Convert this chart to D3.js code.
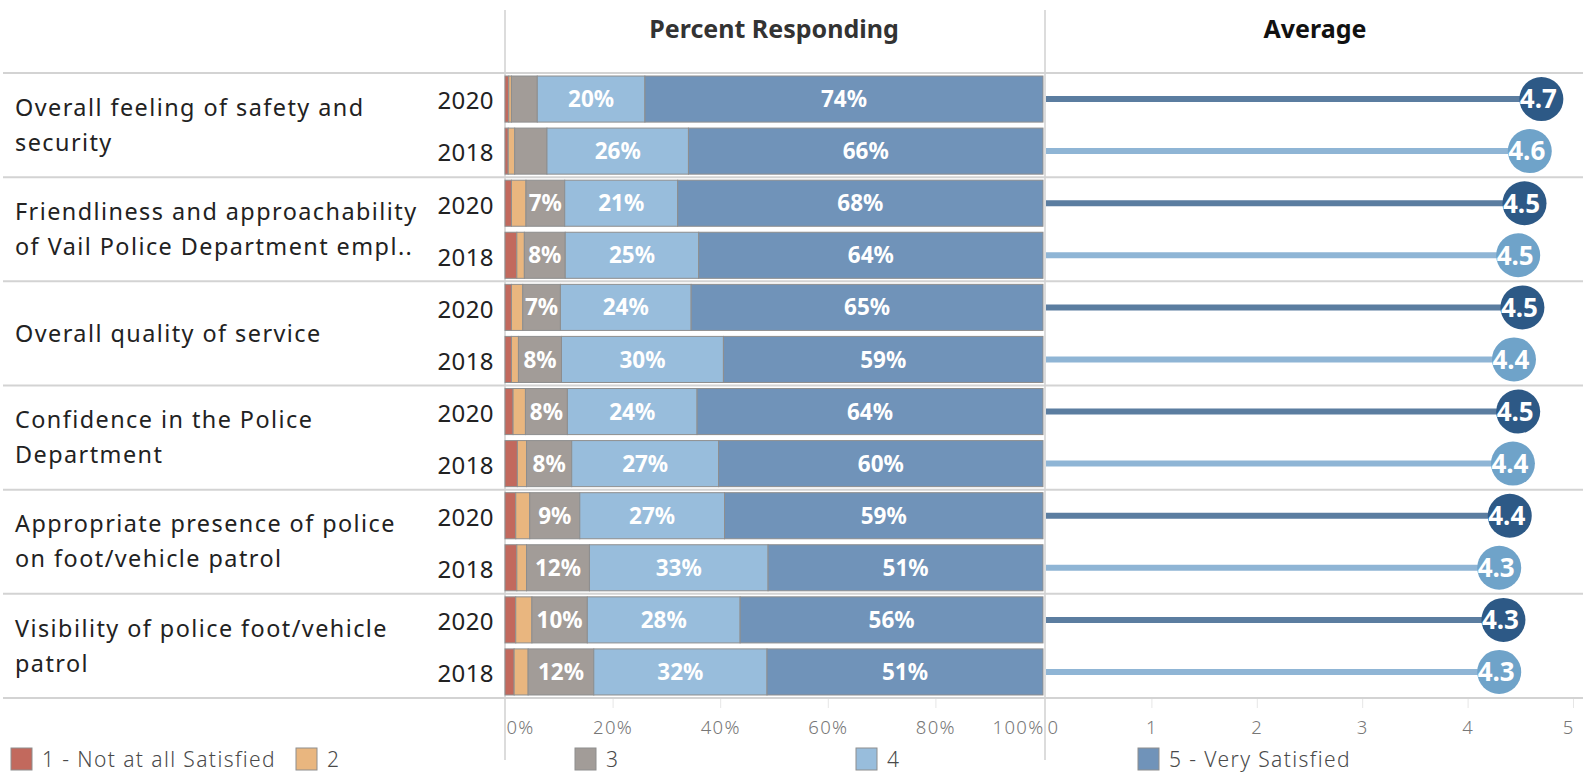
<!DOCTYPE html>
<html><head><meta charset="utf-8">
<script src="https://cdn.jsdelivr.net/npm/d3@7"></script>
<style>
html,body{margin:0;padding:0;background:#fff;}
svg{display:block;}
</style></head>
<body>
<svg id="chart" width="1583" height="773"></svg>
<script>
const categories = [
  "Overall feeling of safety and security",
  "Friendliness and approachability of Vail Police Department empl..",
  "Overall quality of service",
  "Confidence in the Police Department",
  "Appropriate presence of police on foot/vehicle patrol",
  "Visibility of police foot/vehicle patrol"
];
const categoryLines = [
  ["Overall feeling of safety and", "security"],
  ["Friendliness and approachability", "of Vail Police Department empl.."],
  ["Overall quality of service"],
  ["Confidence in the Police", "Department"],
  ["Appropriate presence of police", "on foot/vehicle patrol"],
  ["Visibility of police foot/vehicle", "patrol"]
];
const years = ["2020", "2018"];
const levels = ["1 - Not at all Satisfied", "2", "3", "4", "5 - Very Satisfied"];
const levelColors = ["#c2695d", "#e9b67f", "#a29c98", "#98bddc", "#7093b9"];

// percent responding, per category, [2020, 2018], levels 1..5
const pct1 = [[0.7, 0.6], [1.2, 2.2], [1.2, 1.2], [1.5, 2.3], [2.0, 2.2], [2.0, 1.7]];
const pct2 = [[0.5, 1.2], [2.7, 1.4], [2.1, 1.3], [2.3, 1.7], [2.6, 1.8], [3.0, 2.6]];
const pct3 = [[4.8, 6.0], [7.2, 7.6], [7.0, 8.0], [7.8, 8.4], [9.3, 11.7], [10.3, 12.2]];
const pct4 = [[20.0, 26.3], [21.0, 24.8], [24.3, 30.1], [24.1, 27.3], [26.9, 33.2], [28.4, 32.2]];
const pct5 = [[74.0, 65.9], [67.9, 64.0], [65.4, 59.4], [64.3, 60.3], [59.2, 51.1], [56.3, 51.3]];
const averages = [[4.70, 4.59], [4.54, 4.48], [4.52, 4.44], [4.48, 4.43], [4.40, 4.30], [4.34, 4.30]];

const pctTicks = [0, 20, 40, 60, 80, 100];
const avgTicks = [0, 1, 2, 3, 4, 5];

const lineColors = {"2020": "#5b7da0", "2018": "#8fb5d5"};
const circleColors = {"2020": "#2d5986", "2018": "#6fa3c9"};

const svg = d3.select("#chart");
const W = 1583;
const topY = 73, bottomY = 698;
const mainFont = "'Noto Sans', 'Open Sans', sans-serif";

const xPct = d3.scaleLinear().domain([0, 100]).range([505, 1043]);
const xAvg = d3.scaleLinear().domain([0, 5]).range([1046, 1573]);
const yGroup = d3.scaleBand().domain(categories).range([topY, bottomY]);
const yYear = d3.scaleBand().domain(years).range([0, yGroup.bandwidth()])
  .paddingInner(0.115).paddingOuter(0.058);

const pctArrays = [pct1, pct2, pct3, pct4, pct5];

const rows = [];
categories.forEach((c, ci) => {
  years.forEach((y, yi) => {
    const vals = pctArrays.map(a => a[ci][yi]);
    const stacked = [];
    let acc = 0;
    vals.forEach((v, li) => { stacked.push({level: li, x0: acc, x1: acc + v, v}); acc += v; });
    rows.push({cat: c, ci, year: y, segs: stacked, avg: averages[ci][yi]});
  });
});

// vertical dividers
svg.append("line").attr("x1", 505).attr("x2", 505).attr("y1", 10).attr("y2", 760)
  .attr("stroke", "#d0d0d0").attr("stroke-width", 1.5);
svg.append("line").attr("x1", 1045).attr("x2", 1045).attr("y1", 10).attr("y2", 760)
  .attr("stroke", "#d0d0d0").attr("stroke-width", 1.5);

// headers
svg.append("text").attr("x", 774).attr("y", 38).attr("text-anchor", "middle")
  .attr("font-family", mainFont).attr("font-weight", 700).attr("font-size", 25).attr("fill", "#333")
  .text("Percent Responding");
svg.append("text").attr("x", 1315).attr("y", 38).attr("text-anchor", "middle")
  .attr("font-family", mainFont).attr("font-weight", 700).attr("font-size", 25).attr("fill", "#111")
  .text("Average");

// group separator lines
const seps = [topY].concat(categories.map(c => yGroup(c) + yGroup.bandwidth()));
svg.selectAll("line.sep").data(seps).join("line").attr("class", "sep")
  .attr("x1", 3).attr("x2", W).attr("y1", d => d).attr("y2", d => d)
  .attr("stroke", "#d3d3d3").attr("stroke-width", 2);

// category labels
const catG = svg.append("g");
categories.forEach((c, ci) => {
  const lines = categoryLines[ci];
  const cy = yGroup(c) + yGroup.bandwidth() / 2;
  const lh = 35;
  const startY = cy - (lines.length - 1) * lh / 2;
  const t = catG.append("text").attr("font-family", mainFont).attr("font-size", 23.4)
    .attr("letter-spacing", 1.45).attr("fill", "#222");
  lines.forEach((l, i) => {
    t.append("tspan").attr("x", 15).attr("y", startY + i * lh).attr("dy", "0.35em").text(l);
  });
});

const rowG = svg.selectAll("g.row").data(rows).join("g").attr("class", "row")
  .attr("transform", d => `translate(0,${yGroup(d.cat) + yYear(d.year)})`);

const bh = yYear.bandwidth();

rowG.append("text").attr("x", 494).attr("y", bh / 2 + 2).attr("dy", "0.35em").attr("text-anchor", "end")
  .attr("font-family", mainFont).attr("font-size", 24).attr("letter-spacing", 0.4)
  .attr("fill", "#222").text(d => d.year);

rowG.selectAll("rect.seg").data(d => d.segs).join("rect").attr("class", "seg")
  .attr("x", s => xPct(s.x0)).attr("width", s => xPct(s.x1) - xPct(s.x0))
  .attr("y", 0).attr("height", bh)
  .attr("fill", s => levelColors[s.level]).attr("stroke", "#8e8e8e").attr("stroke-width", 1);

rowG.selectAll("text.pl").data(d => d.segs.filter(s => s.v >= 6.5)).join("text").attr("class", "pl")
  .attr("x", s => (xPct(s.x0) + xPct(s.x1)) / 2).attr("y", bh / 2).attr("dy", "0.36em")
  .attr("text-anchor", "middle").attr("font-family", mainFont).attr("font-weight", 700)
  .attr("font-size", 22.5).attr("fill", "#fff").text(s => Math.round(s.v) + "%");

rowG.append("line").attr("x1", xAvg(0)).attr("x2", d => xAvg(d.avg))
  .attr("y1", bh / 2).attr("y2", bh / 2).attr("stroke", d => lineColors[d.year]).attr("stroke-width", 6);
rowG.append("circle").attr("cx", d => xAvg(d.avg)).attr("cy", bh / 2).attr("r", 22)
  .attr("fill", d => circleColors[d.year]);
rowG.append("text").attr("x", d => xAvg(d.avg) - 3).attr("y", bh / 2).attr("dy", "0.36em")
  .attr("text-anchor", "middle").attr("font-family", mainFont).attr("font-weight", 700)
  .attr("font-size", 26).attr("fill", "#fff").text(d => d.avg.toFixed(1));

const axisY = bottomY + 1;
const pctAxis = svg.append("g").attr("transform", `translate(0,${axisY})`)
  .call(d3.axisBottom(xPct).tickValues(pctTicks).tickSize(9).tickFormat(d => d + "%"));
const avgAxis = svg.append("g").attr("transform", `translate(0,${axisY})`)
  .call(d3.axisBottom(xAvg).tickValues(avgTicks).tickSize(9).tickFormat(d3.format("d")));
[pctAxis, avgAxis].forEach((ax) => {
  ax.select(".domain").remove();
  ax.selectAll(".tick line").attr("stroke", "#e6e6e6").attr("stroke-width", 1);
  ax.selectAll(".tick text").attr("font-family", mainFont).attr("font-weight", 300).attr("font-size", 18.5)
    .attr("letter-spacing", 1.3).attr("fill", "#777").attr("y", 29).attr("dy", "0.35em");
  const n = ax.selectAll(".tick text").size();
  ax.selectAll(".tick text").attr("text-anchor", (d, i) => i === 0 ? "start" : (i === n - 1 ? "end" : "middle"))
    .attr("dx", (d, i) => i === 0 ? 1 : (i === n - 1 ? 1 : 0));
});
pctAxis.selectAll(".tick").filter(d => d === 0 || d === 100).select("line").remove();
avgAxis.selectAll(".tick").filter(d => d === 0).select("line").remove();

const legendX = [11, 296, 575, 856, 1138];
const lg = svg.selectAll("g.leg").data(levels).join("g").attr("class", "leg")
  .attr("transform", (d, i) => `translate(${legendX[i]},748)`);
lg.append("rect").attr("width", 21).attr("height", 22).attr("fill", (d, i) => levelColors[i])
  .attr("stroke", "#8e8e8e").attr("stroke-width", 1);
lg.append("text").attr("x", 31).attr("y", 11).attr("dy", "0.36em")
  .attr("font-family", mainFont).attr("font-weight", 300).attr("font-size", 21)
  .attr("letter-spacing", 1.4).attr("fill", "#4a4a4a").text(d => d);
</script>
</body></html>
